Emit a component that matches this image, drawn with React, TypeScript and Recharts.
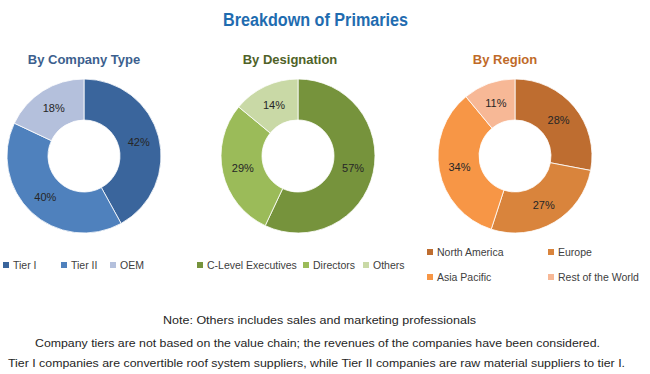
import { PieChart, Pie, Cell } from 'recharts'

const companyNames = ['Tier I', 'Tier II', 'OEM']
const companyValues = [42, 40, 18]

const designationNames = ['C-Level Executives', 'Directors', 'Others']
const designationValues = [57, 29, 14]

const regionNames = ['North America', 'Europe', 'Asia Pacific', 'Rest of the World']
const regionValues = [28, 27, 34, 11]

const notes = [
  'Note: Others includes sales and marketing professionals',
  'Company tiers are not based on the value chain; the revenues of the companies have been considered.',
  'Tier I companies are convertible roof system suppliers, while Tier II companies are raw material suppliers to tier I.',
]

const companyColors = ['#3A659C', '#4F81BD', '#B4C0DC']
const designationColors = ['#76933C', '#9BBB59', '#C9D9A6']
const regionColors = ['#BE6D30', '#D9843C', '#F79646', '#F7B896']

const FONT = '"Liberation Sans", Arial, sans-serif'

function toData(names: string[], values: number[]) {
  return names.map((name, i) => ({ name, value: values[i] }))
}

const RAD = Math.PI / 180

function renderLabel(props: any) {
  const { cx, cy, midAngle, innerRadius, outerRadius, value } = props
  const r = (innerRadius + outerRadius) / 2
  const x = cx + r * Math.cos(-midAngle * RAD)
  const y = cy + r * Math.sin(-midAngle * RAD)
  return (
    <text
      x={x}
      y={y}
      fill="#262626"
      fontSize={11}
      fontFamily={FONT}
      textAnchor="middle"
      dominantBaseline="central"
    >
      {`${value}%`}
    </text>
  )
}

const pies = [
  { key: 'company', names: companyNames, values: companyValues, colors: companyColors, cx: 84 },
  { key: 'designation', names: designationNames, values: designationValues, colors: designationColors, cx: 298 },
  { key: 'region', names: regionNames, values: regionValues, colors: regionColors, cx: 515 },
]

function Swatch({ color }: { color: string }) {
  return (
    <span
      style={{
        display: 'inline-block',
        width: 6,
        height: 6,
        background: color,
        marginRight: 4,
        verticalAlign: 'middle',
        position: 'relative',
        top: -1,
      }}
    />
  )
}

function LegendItem({ name, color, left, top }: { name: string; color: string; left: number; top: number }) {
  return (
    <div
      style={{
        position: 'absolute',
        left,
        top,
        fontFamily: FONT,
        fontSize: 10.5,
        color: '#404040',
        whiteSpace: 'nowrap',
        lineHeight: '12px',
      }}
    >
      <Swatch color={color} />
      {name}
    </div>
  )
}

const subTitle = (text: string, color: string, cx: number) => (
  <div
    style={{
      position: 'absolute',
      left: cx - 80,
      width: 160,
      top: 52,
      textAlign: 'center',
      fontFamily: FONT,
      fontWeight: 'bold',
      fontSize: 13,
      color,
    }}
  >
    {text}
  </div>
)

export default function App() {
  return (
    <div
      style={{
        position: 'absolute',
        left: 0,
        top: 0,
        width: 650,
        height: 374,
        background: '#fff',
        overflow: 'hidden',
      }}
    >
      {subTitle('By Company Type', '#3C5F8E', 84)}
      {subTitle('By Designation', '#4F6228', 290)}
      {subTitle('By Region', '#BF6A28', 505)}

      <div style={{ position: 'absolute', left: 0, top: 0 }}>
        <PieChart width={650} height={260} margin={{ top: 0, right: 0, bottom: 0, left: 0 }}>
          {pies.map((p) => (
            <Pie
              key={p.key}
              data={toData(p.names, p.values)}
              dataKey="value"
              nameKey="name"
              cx={p.cx}
              cy={156}
              innerRadius={36}
              outerRadius={77}
              startAngle={90}
              endAngle={-270}
              stroke="#ffffff"
              strokeWidth={0.8}
              label={renderLabel}
              labelLine={false}
              isAnimationActive={false}
            >
              {p.values.map((_, i) => (
                <Cell key={i} fill={p.colors[i]} />
              ))}
            </Pie>
          ))}
        </PieChart>
      </div>

      {/* legends */}
      <LegendItem name={companyNames[0]} color={companyColors[0]} left={3} top={259} />
      <LegendItem name={companyNames[1]} color={companyColors[1]} left={61} top={259} />
      <LegendItem name={companyNames[2]} color={companyColors[2]} left={110} top={259} />

      <LegendItem name={designationNames[0]} color={designationColors[0]} left={197} top={259} />
      <LegendItem name={designationNames[1]} color={designationColors[1]} left={303} top={259} />
      <LegendItem name={designationNames[2]} color={designationColors[2]} left={363} top={259} />

      <LegendItem name={regionNames[0]} color={regionColors[0]} left={427} top={246} />
      <LegendItem name={regionNames[1]} color={regionColors[1]} left={548} top={246} />
      <LegendItem name={regionNames[2]} color={regionColors[2]} left={427} top={271} />
      <LegendItem name={regionNames[3]} color={regionColors[3]} left={548} top={271} />

      <svg width={650} height={374} style={{ position: 'absolute', left: 0, top: 0, pointerEvents: 'none' }}>
        <text
          x={223}
          y={26}
          fontFamily={FONT}
          fontWeight="bold"
          fontSize={18}
          fill="#1F6CB0"
          textLength={185}
          lengthAdjust="spacingAndGlyphs"
        >
          Breakdown of Primaries
        </text>
        {notes.map((t, i) => (
          <text
            key={i}
            x={[163, 35, 8][i]}
            y={[324, 347, 367][i]}
            fontFamily={FONT}
            fontSize={11}
            fill="#262626"
            textLength={[313, 565, 617][i]}
            lengthAdjust="spacingAndGlyphs"
          >
            {t}
          </text>
        ))}
      </svg>
    </div>
  )
}
